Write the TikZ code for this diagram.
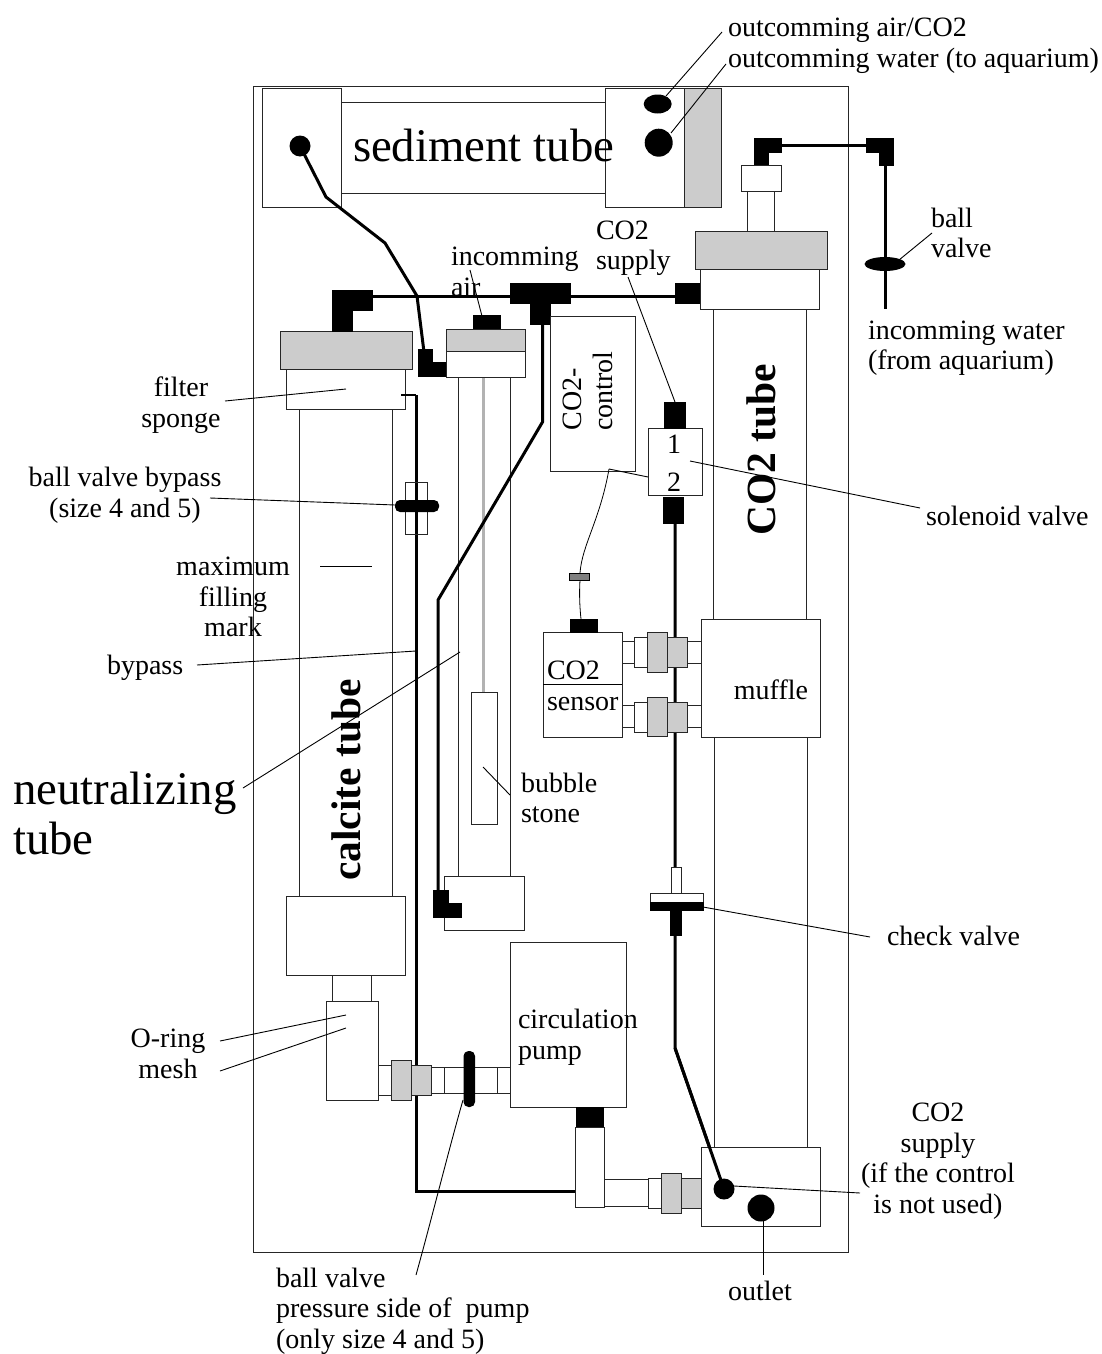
\documentclass[tikz,border=0pt]{standalone}
\usepackage{fontspec}
\usetikzlibrary{shapes.geometric}
\setmainfont{Liberation Serif}
\newcommand\rpart[6]{% name, style, x1,y1,x2,y2
  \pgfmathsetmacro\rw{#5-#3}\pgfmathsetmacro\rh{#6-#4}%
  \pgfmathsetmacro\rx{(#3+#5)/2}\pgfmathsetmacro\ry{(#4+#6)/2}%
  \node[#2,minimum width=\rw pt,minimum height=\rh pt] (#1) at (\rx,\ry) {};}
\newcommand\leader[5]{\coordinate (#1a) at (#2,#3);\coordinate (#1b) at (#4,#5);\draw[leadline] (#1a) -- (#1b);}
\tikzset{
  x=1pt,y=-1pt,
  wpart/.style={draw=black!85,fill=white,line width=1pt,inner sep=0pt,outer sep=0pt},
  gpart/.style={draw=black!85,fill=black!20,line width=1pt,inner sep=0pt,outer sep=0pt},
  bpart/.style={draw=black,fill=black,line width=0.5pt,inner sep=0pt,outer sep=0pt},
  open part/.style={draw=black!85,line width=1pt,inner sep=0pt,outer sep=0pt},
  round part/.style={fill=black,draw=none,rounded corners=5pt,inner sep=0pt,outer sep=0pt},
  pipe/.style={draw=black,line width=3pt,line join=miter},
  leadline/.style={draw=black,line width=0.9pt},
  lab/.style={inner sep=0pt,outer sep=0pt,font=\fontsize{28}{30.5}\selectfont},
  biglab/.style={inner sep=0pt,outer sep=0pt,font=\fontsize{46.8}{50}\selectfont},
  boldlab/.style={inner sep=0pt,outer sep=0pt,rotate=90,font=\fontsize{41.5}{44}\selectfont\bfseries},
}
\begin{document}
\begin{tikzpicture}
\useasboundingbox (0,0) rectangle (1101,1354);
\rpart{frame}{wpart}{253}{86}{848}{1252}
% tubes, drawn under the parts
\rpart{sedblockL}{wpart}{262}{88}{341}{207}
\rpart{sedtube}{wpart}{341}{102}{605}{193}
\rpart{sedblockR}{wpart}{605}{88}{684}{207}
\rpart{sedgray}{gpart}{684}{88}{721}{207}
\rpart{calcite}{wpart}{299}{409}{392}{896}
\rpart{co2tubeUp}{wpart}{713}{309}{806}{619}
\rpart{co2tubeLow}{wpart}{714}{737}{807}{1147}
\rpart{neutube}{wpart}{458}{376}{510}{876}
\rpart{rod}{bpart,draw=black!30,fill=black!30}{482}{377}{484}{692}
\rpart{stone}{wpart}{471}{692}{497}{824}
% named pipe ends
\coordinate (sedout) at (300,146);
\coordinate (p1) at (326,197);\coordinate (p2) at (385,243);\coordinate (p3) at (417,296);\coordinate (p4) at (424,352);
\draw[pipe] (sedout) -- (p1) -- (p2) -- (p3) -- (p4);
\coordinate (hL) at (372,296.5);\coordinate (hR) at (676,296.5);
\draw[pipe] (hL) -- (hR);
\coordinate (t1) at (781,145.5);\coordinate (t2) at (866,145.5);
\draw[pipe] (t1) -- (t2);
\coordinate (w1) at (885.5,165);\coordinate (w2) at (885.5,309);
\draw[pipe] (w1) -- (w2);
\coordinate (air1) at (542.5,320);\coordinate (air2) at (542.5,422);\coordinate (air3) at (438,600);\coordinate (air4) at (438,890);
\draw[pipe] (air1) -- (air2) -- (air3) -- (air4);
\coordinate (by1) at (416,395);\coordinate (by2) at (416,1191.5);\coordinate (by3) at (575,1191.5);
\draw[pipe] (by1) -- (by2) -- (by3);
\coordinate (co1) at (675,523);\coordinate (co2) at (675,1048);\coordinate (co3) at (724,1189);
\draw[pipe] (co1) -- (co2) -- (co3);
% calcite column
\rpart{capL}{gpart}{280}{331}{412}{369}
\rpart{spongeL}{wpart}{286}{369}{405}{409}
\coordinate (by0) at (401,395);
\draw[line width=1.6pt] (by0) -- (by1);
\rpart{lowL}{wpart}{286}{896}{405}{975}
\rpart{neck}{wpart}{332}{975}{371.5}{1001}
\rpart{meshbox}{wpart}{326}{1001}{378}{1100}
% bypass ball valve
\rpart{bvrect}{open part}{405}{482}{427}{534}
\rpart{bvball}{round part}{395}{500}{439}{512}
% elbows and fittings
\draw[bpart] (332,290) -- (372,290) -- (372,310) -- (352,310) -- (352,331) -- (332,331) -- cycle;
\draw[bpart] (418.5,349) -- (432,349) -- (432,362) -- (445,362) -- (445,376) -- (418.5,376) -- cycle;
\draw[bpart] (510,283) -- (570,283) -- (570,303) -- (550,303) -- (550,324) -- (530,324) -- (530,303) -- (510,303) -- cycle;
\rpart{inlet}{bpart}{675}{283}{702}{303}
\draw[bpart] (754,138) -- (781,138) -- (781,152) -- (768,152) -- (768,165) -- (754,165) -- cycle;
\draw[bpart] (866,138) -- (893,138) -- (893,165) -- (879,165) -- (879,152) -- (866,152) -- cycle;
% CO2 column
\rpart{capW}{wpart}{741}{165}{781}{191}
\rpart{neckW}{wpart}{747}{191}{774}{231}
\rpart{capR}{gpart}{695}{231}{827}{269}
\rpart{spongeR}{wpart}{700}{269}{819}{309}
% neutralizing tube
\rpart{airstub}{bpart}{473}{315}{500}{329}
\rpart{neucap}{gpart}{446}{329}{525}{351}
\rpart{neusub}{wpart}{446}{351}{525}{377}
\rpart{neubot}{wpart}{444}{876}{524}{930}
\draw[bpart] (433,890) -- (448,890) -- (448,903) -- (461,903) -- (461,917) -- (433,917) -- cycle;
% control, solenoid
\rpart{control}{wpart}{550}{316}{635}{471}
\rpart{solenoid}{wpart}{648}{428}{702}{495}
\rpart{solTop}{bpart}{664}{402}{685}{428}
\rpart{solBot}{bpart}{663}{497}{683}{523}
\coordinate (wire0) at (609,469);
\coordinate (wire1) at (580,573);\coordinate (wire2) at (580,580);\coordinate (wire3) at (581,619);
\draw[line width=0.8pt] (wire0) .. controls (600,520) and (582,545) .. (wire1);
\draw[line width=0.8pt] (wire2) .. controls (579,595) and (580,610) .. (wire3);
\rpart{plug}{draw=black,fill=black!50,line width=0.6pt,inner sep=0pt}{569}{573}{589}{580}
\rpart{sensor}{wpart}{543}{632}{622}{737}
\coordinate (sd1) at (543,684);\coordinate (sd2) at (622,684);
\draw[line width=1pt] (sd1) -- (sd2);
\rpart{sensorTop}{bpart}{570}{619}{597}{632}
\rpart{muffle}{wpart}{701}{619}{820}{737}
% sensor couplings
\rpart{cA1}{wpart}{622}{641}{634}{663}
\rpart{cA2}{wpart}{634}{637}{647}{667}
\rpart{cA3}{gpart}{647}{632}{667}{672}
\rpart{cA4}{gpart}{667}{637}{687}{667}
\rpart{cA5}{wpart}{687}{641}{701}{663}
\rpart{cB1}{wpart}{622}{705}{634}{727}
\rpart{cB2}{wpart}{634}{702}{647}{732}
\rpart{cB3}{gpart}{647}{697}{667}{736}
\rpart{cB4}{gpart}{667}{702}{687}{732}
\rpart{cB5}{wpart}{687}{705}{701}{727}
% check valve
\rpart{cvTop}{wpart}{671.5}{867}{681.5}{893}
\rpart{cvPlate}{wpart}{650}{893}{703}{902}
\rpart{cvBar}{bpart}{650}{902}{703}{910}
\rpart{cvStem}{bpart}{670}{910}{681}{935}
% pump line
\rpart{pumpP1}{wpart}{378}{1065}{391}{1095}
\rpart{pumpP2}{gpart}{391}{1060}{411}{1100}
\rpart{pumpP3}{gpart}{411}{1065}{431}{1095}
\rpart{pumpP4}{wpart}{431}{1067}{444}{1093}
\rpart{pumpP5}{wpart}{444}{1067}{497}{1093}
\rpart{pumpP6}{wpart}{497}{1067}{510}{1093}
\rpart{pumpball}{round part}{463.5}{1051}{475}{1107}
\rpart{pump}{wpart}{510}{942}{626.5}{1107}
\rpart{pumpOut}{bpart}{576}{1107}{603}{1127}
\rpart{pumpEl}{wpart}{575.5}{1127}{604}{1207}
\rpart{outP1}{wpart}{604}{1179}{648}{1206}
\rpart{outP2}{wpart}{648}{1178}{661}{1208}
\rpart{outP3}{gpart}{661}{1173}{681}{1213}
\rpart{outP4}{gpart}{681}{1178}{701}{1208}
\rpart{botbox}{wpart}{701}{1147}{820}{1226}
\draw[pipe] (co2) -- (co3);
% round parts
\fill (sedout) circle (10.5);
\node[ellipse,fill=black,minimum width=28pt,minimum height=19pt,inner sep=0pt] (airout) at (657.7,104) {};
\node[circle,fill=black,minimum size=28pt,inner sep=0pt] (waterout) at (658.7,142.7) {};
\node[ellipse,fill=black,minimum width=41pt,minimum height=14pt,inner sep=0pt] (ballR) at (885,264) {};
\node[circle,fill=black,minimum size=21pt,inner sep=0pt] (co2dot) at (724,1189) {};
\node[circle,fill=black,minimum size=27pt,inner sep=0pt] (outdot) at (761,1208) {};
% leaders
\leader{la}{666}{96}{722}{32}
\leader{lb}{671}{133}{726}{64}
\leader{lc}{899}{260}{932}{233}
\leader{ld}{470}{270}{481.7}{315}
\leader{le}{628}{277}{675}{402}
\leader{lf}{225}{401}{346}{389}
\leader{lg}{210}{498}{395}{505}
\leader{lh}{320}{566}{372}{566}
\leader{li}{197}{665}{416}{651}
\leader{lj}{243}{788}{460}{652}
\leader{lk}{483}{767}{510}{795}
\leader{ll}{690}{461}{920}{508}
\leader{lm}{609}{469}{648}{477}
\leader{ln}{703}{907}{870}{937}
\leader{lo}{220}{1041}{346}{1015}
\leader{lp}{220}{1071}{346}{1028}
\leader{lq}{734}{1186}{860}{1193}
\leader{lr}{763}{1221}{763}{1275}
\coordinate (ls1) at (463,1100);\coordinate (ls2) at (416,1275);
\draw[leadline] (ls1) .. controls (450,1145) and (430,1225) .. (ls2);
% labels
\node[lab,anchor=west] (t1a) at (728,30.5) {outcomming air/CO2};
\node[lab,anchor=west] (t1b) at (728,60.5) {outcomming water (to aquarium)};
\node[biglab,anchor=west] (tsed) at (353,145) {sediment tube};
\node[lab,anchor=west,align=left] (tco) at (596,248) {CO2\\supply};
\node[lab,anchor=west,align=left] (tinc) at (451,272) {incomming\\air};
\node[lab,anchor=west,align=left] (tbv) at (931,233) {ball\\valve};
\node[lab,anchor=west,align=left] (tinw) at (868,348) {incomming water\\(from aquarium)};
\node[lab,align=center] (tfs) at (181,405) {filter\\sponge};
\node[lab,align=center] (tbb) at (125,495.5) {ball valve bypass\\(size 4 and 5)};
\node[lab,align=center] (tmax) at (233,597) {maximum\\filling\\mark};
\node[lab,anchor=west] (tby) at (107,668) {bypass};
\node[biglab,anchor=west,align=left] (tneu) at (13,813) {neutralizing\\tube};
\node[lab,anchor=west,align=left] (tbub) at (521,798) {bubble\\stone};
\node[lab,anchor=west] (tsol) at (926,516) {solenoid valve};
\node[lab,anchor=west,align=left] (tsen) at (547,686) {CO2\\sensor};
\node[lab] (tmuf) at (771,690) {muffle};
\node[lab] (tone) at (674,444) {1};
\node[lab] (ttwo) at (674,482) {2};
\node[lab,rotate=90,align=left] (tctl) at (588,391) {CO2-\\control};
\node[lab,anchor=west] (tchk) at (887,936) {check valve};
\node[lab,anchor=west,align=left] (tpump) at (518,1037.5) {circulation\\pump};
\node[lab,align=center] (tring) at (168,1054) {O-ring\\mesh};
\node[lab,align=center] (tcs) at (938,1161) {CO2\\supply\\(if the control\\is not used)};
\node[lab] (tout) at (760,1291) {outlet};
\node[lab,anchor=west,align=left] (tpv) at (276,1311) {ball valve\\pressure side of~ pump\\(only size 4 and 5)};
\node[boldlab] (tcal) at (346,780) {calcite tube};
\node[boldlab] (tco2) at (761,450) {CO2 tube};
\end{tikzpicture}
\end{document}
